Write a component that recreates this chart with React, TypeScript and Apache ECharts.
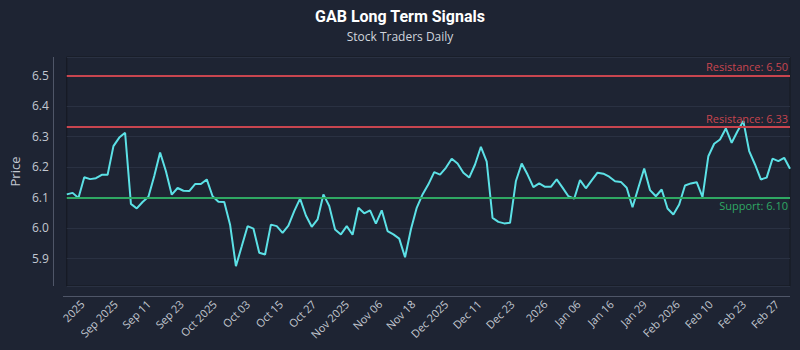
import React, { useEffect, useRef } from "react";
import * as echarts from "echarts";

// Daily closing prices
const prices = [
  6.110, 6.115, 6.098, 6.166, 6.160, 6.163, 6.174, 6.174, 6.268, 6.296,
  6.312, 6.079, 6.064, 6.085, 6.102, 6.170, 6.247, 6.186, 6.109, 6.131,
  6.122, 6.121, 6.144, 6.144, 6.159, 6.104, 6.086, 6.085, 6.011, 5.875,
  5.940, 6.006, 5.998, 5.919, 5.913, 6.011, 6.006, 5.984, 6.008, 6.055,
  6.096, 6.041, 6.004, 6.028, 6.110, 6.072, 5.995, 5.979, 6.006, 5.978,
  6.066, 6.048, 6.058, 6.014, 6.058, 5.990, 5.979, 5.965, 5.904, 5.995,
  6.066, 6.110, 6.143, 6.183, 6.175, 6.197, 6.227, 6.211, 6.181, 6.165,
  6.208, 6.266, 6.217, 6.033, 6.020, 6.015, 6.017, 6.153, 6.211, 6.175,
  6.134, 6.146, 6.135, 6.135, 6.159, 6.132, 6.104, 6.096, 6.157, 6.130,
  6.156, 6.181, 6.178, 6.168, 6.153, 6.151, 6.132, 6.068, 6.132, 6.195,
  6.124, 6.104, 6.126, 6.064, 6.044, 6.077, 6.139, 6.146, 6.150, 6.101,
  6.235, 6.276, 6.290, 6.326, 6.279, 6.317, 6.350, 6.252, 6.208, 6.159,
  6.165, 6.227, 6.219, 6.230, 6.194,
];

const sessions = prices.map((_, i) => `Session ${i + 1}`);

const tickLabels = [
  "2025", "Sep 2025", "Sep 11", "Sep 23", "Oct 2025", "Oct 03", "Oct 15",
  "Oct 27", "Nov 2025", "Nov 06", "Nov 18", "Dec 2025", "Dec 11", "Dec 23",
  "2026", "Jan 06", "Jan 16", "Jan 29", "Feb 2026", "Feb 10", "Feb 23", "Feb 27",
];

const resistanceLevels = [6.5, 6.33];
const supportLevels = [6.1];

const BG = "#1e2433";
const RED = "#c8454f";
const GREEN = "#2fa863";
const CYAN = "#5ce1e6";
const LABEL = "#c3c8d1";
const AXIS = "#4f5668";
const FONT = "'Open Sans', sans-serif";

const GRID = { left: 63, right: 10, top: 57, bottom: 64 };
const W = 800;
const H = 350;

export default function App() {
  const ref = useRef<HTMLDivElement>(null);

  useEffect(() => {
    const chart = echarts.init(ref.current!, null, { renderer: "svg" });
    chart.setOption({
      animation: false,
      backgroundColor: BG,
      title: {
        text: "GAB Long Term Signals",
        subtext: "Stock Traders Daily",
        left: "center",
        top: 3,
        itemGap: 6,
        textStyle: { color: "#ffffff", fontSize: 16, fontWeight: "bold", fontFamily: "Roboto, sans-serif" },
        subtextStyle: { color: "#d0d4dc", fontSize: 12, fontFamily: FONT },
      },
      grid: {
        ...GRID,
        show: true,
        backgroundColor: "transparent",
        borderColor: "#141821",
        borderWidth: 1,
      },
      // detached axis lines (offset from the plot frame, as in the reference)
      graphic: [
        {
          type: "line",
          silent: true,
          shape: { x1: GRID.left - 9.5, y1: GRID.top, x2: GRID.left - 9.5, y2: H - GRID.bottom },
          style: { stroke: AXIS, lineWidth: 1 },
        },
        {
          type: "line",
          silent: true,
          shape: { x1: GRID.left, y1: H - GRID.bottom + 10.5, x2: W - GRID.right, y2: H - GRID.bottom + 10.5 },
          style: { stroke: AXIS, lineWidth: 1 },
        },
      ],
      xAxis: [
        {
          type: "category",
          data: sessions,
          boundaryGap: false,
          show: false,
        },
        {
          type: "value",
          position: "bottom",
          offset: 10,
          min: -0.47,
          max: 21.4,
          axisLine: { show: false },
          axisTick: { show: false },
          splitLine: { show: false },
          axisLabel: {
            customValues: tickLabels.map((_, i) => i),
            formatter: (v: number) => tickLabels[Math.round(v)] ?? "",
            rotate: 45,
            margin: 6,
            color: LABEL,
            fontSize: 11,
            fontFamily: FONT,
          },
        },
      ],
      yAxis: {
        type: "value",
        position: "left",
        offset: 10,
        min: 5.81,
        max: 6.56,
        splitNumber: 7,
        name: "Price",
        nameLocation: "middle",
        nameGap: 34,
        nameTextStyle: { color: LABEL, fontSize: 13, fontFamily: FONT },
        axisLine: { show: false },
        axisTick: { show: false },
        axisLabel: {
          color: LABEL,
          fontSize: 12,
          fontFamily: FONT,
          margin: 8,
          showMinLabel: false,
          showMaxLabel: false,
          formatter: (v: number) => v.toFixed(1),
        },
        splitLine: { show: true, lineStyle: { color: "#2a3142", width: 1 } },
      },
      series: [
        {
          type: "line",
          xAxisIndex: 0,
          yAxisIndex: 0,
          data: prices,
          symbol: "none",
          lineStyle: { color: CYAN, width: 2 },
          markLine: {
            silent: true,
            symbol: ["none", "none"],
            data: [
              ...resistanceLevels.map((v) => ({
                yAxis: v,
                lineStyle: { color: RED, width: 2, type: "solid" },
                label: {
                  show: true,
                  position: "insideEndTop",
                  formatter: `Resistance: ${v.toFixed(2)}`,
                  color: RED,
                  fontSize: 11,
                  fontFamily: FONT,
                  distance: [2, 3],
                },
              })),
              ...supportLevels.map((v) => ({
                yAxis: v,
                lineStyle: { color: GREEN, width: 2, type: "solid" },
                label: {
                  show: true,
                  position: "insideEndBottom",
                  formatter: `Support: ${v.toFixed(2)}`,
                  color: GREEN,
                  fontSize: 11,
                  fontFamily: FONT,
                  distance: [2, 3],
                },
              })),
            ],
          },
        },
      ],
    });
    return () => chart.dispose();
  }, []);

  return (
    <div
      ref={ref}
      style={{ position: "fixed", left: 0, top: 0, width: W, height: H }}
    />
  );
}
